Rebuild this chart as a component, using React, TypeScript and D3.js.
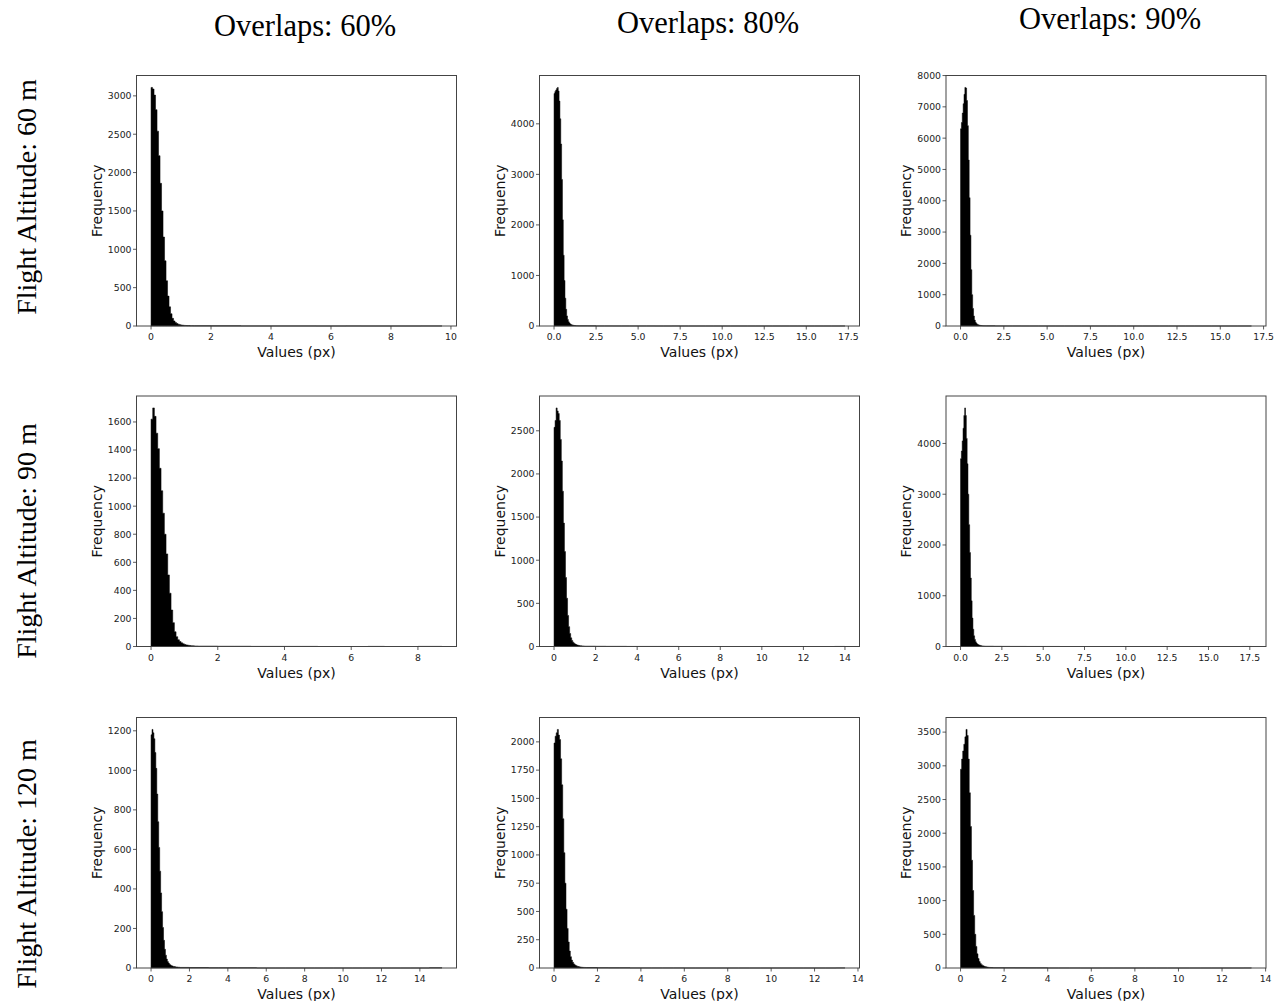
import React from "react";
import * as d3 from "d3";

// ---------- data ----------
const rowLabels = ["Flight Altitude: 60 m", "Flight Altitude: 90 m", "Flight Altitude: 120 m"];
const colLabels = ["Overlaps: 60%", "Overlaps: 80%", "Overlaps: 90%"];

const binWidth = 0.05; // main bins start at 0
const tailStart = 1.5;
const tailBinWidth = 0.5;

// main-hump bin heights (0 .. 1.5 px)
const alt60ov60 = [3110, 3090, 3010, 2820, 2540, 2220, 1860, 1500, 1160, 850, 590, 390, 250, 160, 100, 66, 45, 32, 23, 17, 13, 10, 8, 6, 5, 5, 4, 4, 3, 3];
const alt60ov80 = [4600, 4640, 4670, 4700, 4720, 4650, 4450, 4100, 3600, 2900, 2100, 1400, 900, 550, 330, 200, 130, 85, 60, 42, 30, 22, 17, 13, 10, 8, 7, 6, 5, 4];
const alt60ov90 = [6300, 6500, 6800, 7100, 7400, 7620, 7600, 7200, 6400, 5300, 4100, 2900, 1800, 1000, 560, 320, 190, 120, 80, 55, 40, 30, 22, 17, 13, 10, 8, 7, 6, 5];
const alt90ov60 = [1620, 1700, 1640, 1520, 1410, 1270, 1110, 950, 800, 660, 510, 380, 260, 170, 105, 70, 48, 35, 26, 19, 14, 11, 9, 7, 6, 5, 4, 4, 3, 3];
const alt90ov80 = [2540, 2620, 2765, 2730, 2700, 2620, 2400, 2150, 1800, 1430, 1100, 800, 560, 360, 230, 150, 100, 70, 50, 38, 29, 22, 17, 14, 11, 9, 8, 7, 6, 5];
const alt90ov90 = [3700, 3850, 4050, 4300, 4550, 4700, 4550, 4100, 3600, 3000, 2400, 1850, 1350, 900, 560, 340, 210, 140, 95, 68, 50, 38, 30, 24, 19, 15, 12, 10, 9, 8];
const alt120ov60 = [1180, 1207, 1190, 1160, 1090, 1010, 880, 740, 610, 490, 380, 285, 205, 140, 95, 65, 45, 33, 25, 19, 15, 12, 10, 8, 7, 6, 5, 5, 4, 4];
const alt120ov80 = [1990, 2050, 2080, 2110, 2060, 2020, 1850, 1620, 1320, 1020, 750, 520, 350, 230, 150, 100, 70, 50, 36, 27, 21, 16, 13, 10, 9, 7, 6, 5, 5, 4];
const alt120ov90 = [2950, 3100, 3220, 3320, 3430, 3540, 3450, 3100, 2600, 2100, 1600, 1150, 780, 500, 320, 210, 140, 95, 68, 50, 38, 29, 22, 18, 14, 11, 9, 8, 7, 6];

// long tails (1.5 px .. max), 0.5 px bins
const tail60ov60 = [3, 2, 2, 1, 1, 1, 1, 1, 0, 0, 1, 0, 0, 0, 0, 1];
const tail60ov80 = [4, 3, 2, 2, 1, 1, 1, 1, 1, 0, 0, 1, 0, 0, 0, 0, 0, 0, 0, 0, 0, 0, 0, 0, 0, 0, 0, 0, 0, 0, 0, 1];
const tail60ov90 = [5, 3, 2, 2, 1, 1, 1, 1, 0, 0, 0, 0, 0, 0, 0, 0, 0, 0, 0, 0, 0, 0, 0, 0, 0, 0, 0, 0, 0, 1];
const tail90ov60 = [3, 2, 2, 1, 1, 1, 1, 0, 0, 0, 1, 0, 0, 1];
const tail90ov80 = [4, 3, 2, 2, 1, 1, 1, 1, 1, 0, 0, 0, 0, 0, 0, 0, 0, 0, 0, 0, 0, 0, 0, 0, 1];
const tail90ov90 = [6, 4, 3, 2, 2, 1, 1, 1, 1, 0, 0, 0, 0, 0, 0, 0, 0, 0, 0, 0, 0, 0, 0, 0, 0, 0, 0, 0, 0, 0, 0, 1];
const tail120ov60 = [3, 2, 2, 1, 1, 1, 1, 1, 0, 0, 0, 0, 0, 0, 0, 0, 0, 0, 0, 0, 0, 0, 0, 0, 0, 0, 1];
const tail120ov80 = [4, 3, 2, 2, 1, 1, 1, 1, 1, 0, 0, 0, 0, 0, 0, 0, 0, 0, 0, 0, 0, 0, 0, 1];
const tail120ov90 = [5, 4, 3, 2, 2, 1, 1, 1, 0, 0, 0, 0, 0, 0, 0, 0, 0, 0, 0, 0, 0, 0, 0, 1];

// maximum value in each data set (px)
const maxValues = [9.7, 17.3, 16.8, 8.72, 14.0, 17.6, 15.15, 13.4, 13.35];

const xTicksA = [0, 2, 4, 6, 8, 10];
const xTicksB = [0, 2.5, 5, 7.5, 10, 12.5, 15, 17.5];
const xTicksC = [0, 2, 4, 6, 8];
const xTicksD = [0, 2, 4, 6, 8, 10, 12, 14];

const yTicks1 = [0, 500, 1000, 1500, 2000, 2500, 3000];
const yTicks2 = [0, 1000, 2000, 3000, 4000];
const yTicks3 = [0, 1000, 2000, 3000, 4000, 5000, 6000, 7000, 8000];
const yTicks4 = [0, 200, 400, 600, 800, 1000, 1200, 1400, 1600];
const yTicks5 = [0, 500, 1000, 1500, 2000, 2500];
const yTicks6 = [0, 1000, 2000, 3000, 4000];
const yTicks7 = [0, 200, 400, 600, 800, 1000, 1200];
const yTicks8 = [0, 250, 500, 750, 1000, 1250, 1500, 1750, 2000];
const yTicks9 = [0, 500, 1000, 1500, 2000, 2500, 3000, 3500];

const panels = [
  { main: alt60ov60, tail: tail60ov60, xTicks: xTicksA, yTicks: yTicks1, dec: 0 },
  { main: alt60ov80, tail: tail60ov80, xTicks: xTicksB, yTicks: yTicks2, dec: 1 },
  { main: alt60ov90, tail: tail60ov90, xTicks: xTicksB, yTicks: yTicks3, dec: 1 },
  { main: alt90ov60, tail: tail90ov60, xTicks: xTicksC, yTicks: yTicks4, dec: 0 },
  { main: alt90ov80, tail: tail90ov80, xTicks: xTicksD, yTicks: yTicks5, dec: 0 },
  { main: alt90ov90, tail: tail90ov90, xTicks: xTicksB, yTicks: yTicks6, dec: 1 },
  { main: alt120ov60, tail: tail120ov60, xTicks: xTicksD, yTicks: yTicks7, dec: 0 },
  { main: alt120ov80, tail: tail120ov80, xTicks: xTicksD, yTicks: yTicks8, dec: 0 },
  { main: alt120ov90, tail: tail120ov90, xTicks: xTicksD, yTicks: yTicks9, dec: 0 },
];

// ---------- layout ----------
const W = 1274;
const H = 1001;
const colLeft = [136.5, 539.5, 946];
const rowTop = [75.5, 396, 717.5];
const PW = 320;
const PH = 250.5;
const colTitleX = [305, 708, 1110];
const colTitleY = [36, 33, 29];
const rowTitleX = 36;
const rowTitleCY = [197, 541, 864];

const tickFont = "'DejaVu Sans', sans-serif";
const tickSize = 9.3;

function Panel({ idx }: { idx: number }) {
  const p = panels[idx];
  const r = Math.floor(idx / 3);
  const c = idx % 3;
  const left = colLeft[c];
  const top = rowTop[r];
  const maxV = maxValues[idx];
  const x = d3.scaleLinear().domain([-0.05 * maxV, maxV * 1.05]).range([0, PW]);
  const peak = d3.max(p.main) as number;
  const y = d3.scaleLinear().domain([0, peak * 1.05]).range([PH, 0]);

  const bins: { x0: number; v: number }[] = [];
  p.main.forEach((v, i) => bins.push({ x0: i * binWidth, v }));
  p.tail.forEach((v, i) => bins.push({ x0: tailStart + i * tailBinWidth, v }));
  bins.push({ x0: maxV, v: 0 });

  const area = d3
    .area<{ x0: number; v: number }>()
    .x((d) => x(d.x0))
    .y0(y(0))
    .y1((d) => y(d.v))
    .curve(d3.curveStepAfter);

  const fmt = (v: number) => (p.dec ? v.toFixed(1) : String(v));

  return (
    <g transform={`translate(${left},${top})`}>
      <path d={area(bins) || ""} fill="#000" stroke="#000" strokeWidth={0.5} />
      <rect x={0} y={0} width={PW} height={PH} fill="none" stroke="#444" strokeWidth={1} />
      {p.xTicks.map((t) => (
        <g key={"x" + t} transform={`translate(${x(t)},${PH})`}>
          <line y1={0} y2={3.5} stroke="#333" strokeWidth={0.8} />
          <text y={14.3} textAnchor="middle" fontFamily={tickFont} fontSize={tickSize} fill="#222">
            {fmt(t)}
          </text>
        </g>
      ))}
      {p.yTicks.map((t) => (
        <g key={"y" + t} transform={`translate(0,${y(t)})`}>
          <line x1={0} x2={-3.5} stroke="#333" strokeWidth={0.8} />
          <text x={-5} dy="0.36em" textAnchor="end" fontFamily={tickFont} fontSize={tickSize} fill="#222">
            {t}
          </text>
        </g>
      ))}
      <text x={PW / 2} y={PH + 31} textAnchor="middle" fontFamily={tickFont} fontSize={14} fill="#111">
        Values (px)
      </text>
      <text
        transform={`translate(-35,${PH / 2}) rotate(-90)`}
        textAnchor="middle"
        fontFamily={tickFont}
        fontSize={14}
        fill="#111"
      >
        Frequency
      </text>
    </g>
  );
}

export default function App() {
  return (
    <svg
      width={W}
      height={H}
      style={{ position: "absolute", left: 0, top: 0, background: "#fff" }}
    >
      <rect width={W} height={H} fill="#fff" />
      {colLabels.map((l, i) => (
        <text
          key={l}
          x={colTitleX[i]}
          y={colTitleY[i]}
          textAnchor="middle"
          fontFamily="'Liberation Serif', 'Times New Roman', serif"
          fontSize={30.5}
          fill="#000"
        >
          {l}
        </text>
      ))}
      {rowLabels.map((l, i) => (
        <text
          key={l}
          transform={`translate(${rowTitleX},${rowTitleCY[i]}) rotate(-90)`}
          textAnchor="middle"
          fontFamily="'Liberation Serif', 'Times New Roman', serif"
          fontSize={28}
          fill="#000"
        >
          {l}
        </text>
      ))}
      {panels.map((_, i) => (
        <Panel key={i} idx={i} />
      ))}
    </svg>
  );
}
